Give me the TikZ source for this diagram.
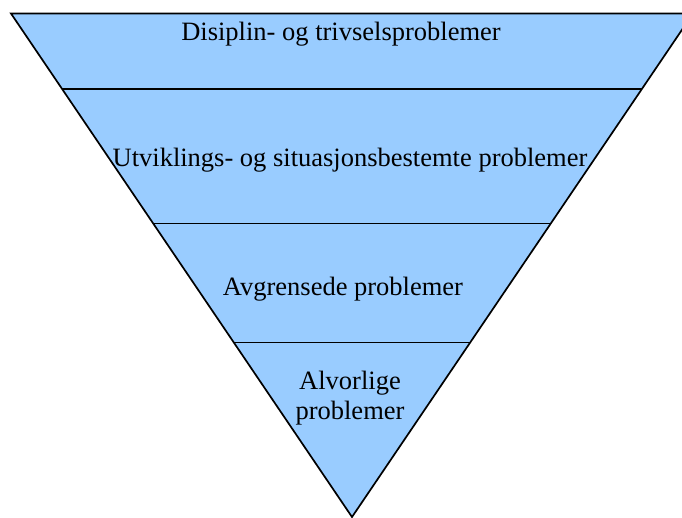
\documentclass[tikz,border=0pt]{standalone}
\usepackage{fontspec}
\setmainfont{Liberation Serif}
\begin{document}
\begin{tikzpicture}[x=1pt,y=-1pt,
  band/.style={fill=bandblue,draw=black,line width=1.7pt,line join=miter},
  sep/.style={draw=black,line width=1.7pt},
  lbl/.style={font=\fontsize{26.5}{29.5}\selectfont,align=center,inner sep=0pt}]
\definecolor{bandblue}{HTML}{99CCFF}
\useasboundingbox (0,0) rectangle (682,517);
\clip (0,0) rectangle (682,517);
\coordinate (tl) at (11,13.5);
\coordinate (tr) at (693,13.5);
\coordinate (tip) at (352,517);
\filldraw[band] (tl) -- (tr) -- (tip) -- cycle;
\coordinate (l1) at ({11+(89-13.5)/503.5*341},89);
\coordinate (r1) at ({693-(89-13.5)/503.5*341},89);
\coordinate (l2) at ({11+(223.5-13.5)/503.5*341},223.5);
\coordinate (r2) at ({693-(223.5-13.5)/503.5*341},223.5);
\coordinate (l3) at ({11+(342.5-13.5)/503.5*341},342.5);
\coordinate (r3) at ({693-(342.5-13.5)/503.5*341},342.5);
\draw[sep] (l1) -- (r1);
\draw[sep] (l2) -- (r2);
\draw[sep] (l3) -- (r3);
\node[lbl] (t1) at (341,34) {Disiplin- og trivselsproblemer};
\node[lbl] (t2) at (350,160) {Utviklings- og situasjonsbestemte problemer};
\node[lbl] (t3) at (343,289) {Avgrensede problemer};
\node[lbl] (t4) at (350,398) {Alvorlige\\problemer};
\end{tikzpicture}
\end{document}
